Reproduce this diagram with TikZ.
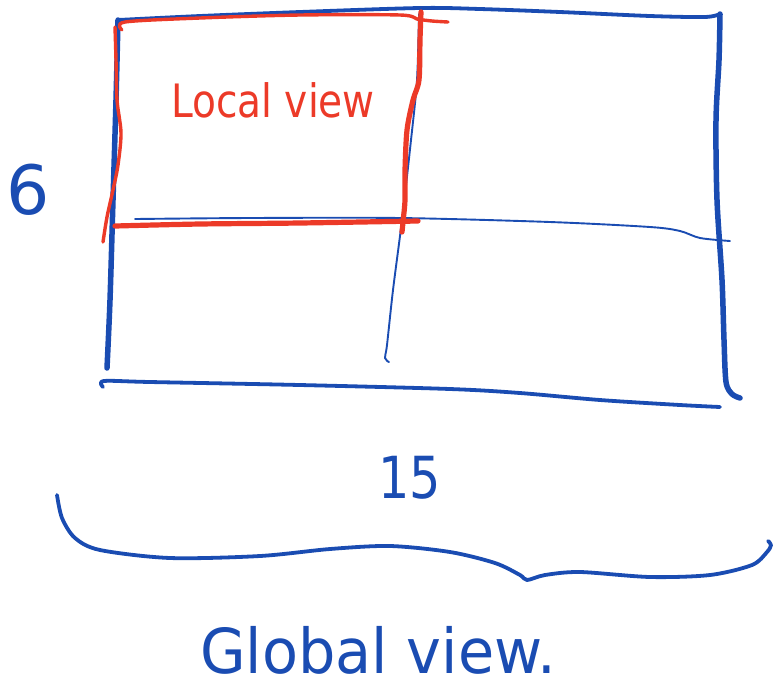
\documentclass[tikz,border=0pt]{standalone}
\usepackage{fontspec}
\setmainfont{DejaVu Sans}
\definecolor{ink}{RGB}{26,76,178}
\definecolor{pen}{RGB}{236,58,40}
\begin{document}
\begin{tikzpicture}[x=1pt,y=-1pt,line cap=round,line join=round,
  heavy/.style={ink,line width=5.5pt},
  medium/.style={ink,line width=3.8pt},
  fine/.style={ink,line width=1.9pt},
  redpen/.style={pen,line width=3.4pt},
  redbold/.style={pen,line width=5.2pt},
  hand/.style={inner sep=0pt,anchor=center}]
\useasboundingbox (0,0) rectangle (775,697);

% outer frame of the global grid
\draw[medium] plot[smooth] coordinates {(118,20) (200,16) (300,12) (420,8) (480,9) (560,12) (650,16) (705,17) (720,14)};
\draw[heavy] plot[smooth] coordinates {(118,20) (116,100) (113,200) (110,300) (107,368)};
\draw[heavy] plot[smooth] coordinates {(720,14) (719,60) (716,120) (717,200) (722,280) (724,340) (726,382) (732,394) (740,398)};
\draw[medium] plot[smooth] coordinates {(103,387) (104,381) (150,382) (300,385) (450,389) (520,393) (600,400) (680,405) (720,407)};

% inner dividing lines
\draw[fine] plot[smooth] coordinates {(419,14) (417,80) (411,140) (402,220) (393,290) (387,345) (385,358) (389,362)};
\draw[fine] plot[smooth] coordinates {(135,219) (250,218) (400,218) (550,222) (650,227) (680,231) (700,238) (730,241)};

% local block outline
\draw[redpen] plot[smooth] coordinates {(122,30) (125,22) (200,18) (300,15) (400,15) (417,19) (432,21) (448,22)};
\draw[redpen] plot[smooth] coordinates {(115,27) (116,60) (117,100) (121,133) (118,165) (113,190) (107,217) (103,242)};
\draw[redbold] plot[smooth] coordinates {(421,12) (420,40) (419,80) (413,100) (407,130) (405,170) (405,200) (403,222) (402,232)};
\draw[redbold] plot[smooth] coordinates {(115,226) (200,224) (300,223) (418,221)};

% brace under the grid
\draw[medium] plot[smooth] coordinates {(57,495) (62,518) (75,538) (100,550) (170,558) (260,556) (330,549) (390,546) (450,552) (495,563) (520,575) (527,580) (545,575) (580,572) (650,577) (710,575) (752,565) (767,552) (771,545) (768,541)};

% labels
\node[hand,text=pen,font=\fontsize{46}{46}\selectfont] (local) at (273,100) {\scalebox{0.85}[1]{Local view}};
\node[hand,text=ink,font=\fontsize{68}{68}\selectfont] (six) at (28,190) {6};
\node[hand,text=ink,font=\fontsize{58}{58}\selectfont] (fifteen) at (410,478) {\scalebox{0.85}[1]{15}};
\node[hand,text=ink,font=\fontsize{62}{62}\selectfont] (global) at (378,650) {\scalebox{0.95}[1]{Global view.}};
\end{tikzpicture}
\end{document}
